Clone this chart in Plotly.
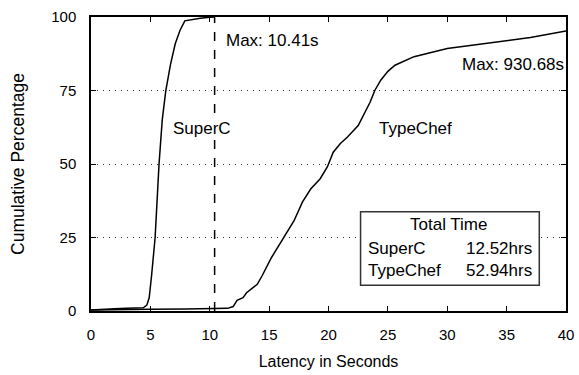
import plotly.graph_objects as go

superc_x = [0, 1, 2, 3, 4, 4.4, 4.7, 4.9, 5.1, 5.4, 5.73, 6.0, 6.3, 6.7, 7.1, 7.5, 7.9, 8.5, 9.2, 10.0, 10.41]
superc_y = [0.3, 0.6, 0.8, 0.9, 1.0, 1.1, 2.0, 4.5, 12, 25, 50, 65, 75, 84, 91, 95.5, 98.7, 99.2, 99.6, 99.9, 100]

typechef_x = [0, 2, 5, 8, 10, 11.5, 11.97, 12.3, 12.8, 13.1, 14.0, 14.4, 15.2, 16.2, 17.1, 17.8, 18.5,
              19.3, 19.9, 20.4, 21.0, 21.6, 22.5, 23.5, 23.9, 24.4, 25.0, 25.6, 27.2, 30, 33.1, 35.3, 37, 40]
typechef_y = [0.3, 0.5, 0.6, 0.7, 0.8, 0.9, 1.5, 3.6, 4.5, 6.2, 9.1, 11.9, 18.2, 24.8, 30.7, 37, 41.5,
              45, 49, 54.0, 57.0, 59.2, 63.1, 71, 75, 78.5, 81.5, 83.6, 86.5, 89.3, 91, 92.2, 93, 95.2]

superc_max = 10.41
x_ticks = [0, 5, 10, 15, 20, 25, 30, 35, 40]
y_ticks = [0, 25, 50, 75, 100]
total_names = ["SuperC", "TypeChef"]
total_values = ["12.52hrs", "52.94hrs"]

FONT = "Liberation Sans, Arial, sans-serif"

fig = go.Figure()
fig.add_trace(go.Scatter(x=superc_x, y=superc_y, mode="lines", line=dict(color="black", width=1.5),
                         showlegend=False, hoverinfo="skip"))
fig.add_trace(go.Scatter(x=typechef_x, y=typechef_y, mode="lines", line=dict(color="black", width=1.5),
                         showlegend=False, hoverinfo="skip"))

fig.add_shape(type="line", xref="x", yref="y", x0=superc_max, x1=superc_max, y0=0, y1=100,
              line=dict(color="black", width=1.5, dash="dash"))

# Total time box
fig.add_shape(type="rect", xref="x", yref="y", x0=22.7, x1=37.75, y0=8.8, y1=33.8,
              line=dict(color="#333", width=1.5), fillcolor="white", layer="above")

annots = [
    dict(x=superc_max + 0.8, y=92.0, text="Max: 10.41s", xanchor="left"),
    dict(x=40.0, y=84.0, text="Max: 930.68s", xanchor="right"),
    dict(x=9.36, y=62.0, text="SuperC", xanchor="center", bgcolor="white"),
    dict(x=27.3, y=62.0, text="TypeChef", xanchor="center"),
    dict(x=30.1, y=29.3, text="Total Time", xanchor="center"),
]
row_y = [21.1, 13.8]
for n, v, yy in zip(total_names, total_values, row_y):
    annots.append(dict(x=23.15, y=yy, text=n, xanchor="left"))
    annots.append(dict(x=37.3, y=yy, text=v, xanchor="right"))
for a in annots:
    fig.add_annotation(xref="x", yref="y", showarrow=False, yanchor="middle",
                       font=dict(family=FONT, size=17, color="black"), **a)

axis_common = dict(showline=True, linecolor="black", linewidth=1.5, mirror="ticks",
                   ticks="inside", ticklen=5, tickcolor="black", tickwidth=1.2,
                   tickfont=dict(family=FONT, size=15, color="black"), zeroline=False,
                   automargin=False)

fig.update_xaxes(range=[0, 40], tickvals=x_ticks, showgrid=False, ticklabelstandoff=9,
                 title=dict(text="Latency in Seconds", font=dict(family=FONT, size=16, color="black"), standoff=14),
                 **axis_common)
fig.update_yaxes(range=[0, 100], tickvals=y_ticks, showgrid=True, gridcolor="#333", gridwidth=1,
                 griddash="1px,5px", ticklabelstandoff=10,
                 title=dict(text="Cumulative Percentage", font=dict(family=FONT, size=17.5, color="black"), standoff=22),
                 **axis_common)

fig.update_layout(width=579, height=375, margin=dict(l=91, r=13, t=17, b=64),
                  plot_bgcolor="white", paper_bgcolor="white", hovermode=False)

fig.write_html("out.html", config={"displayModeBar": False},
               post_script="document.body.style.margin='0px';")
